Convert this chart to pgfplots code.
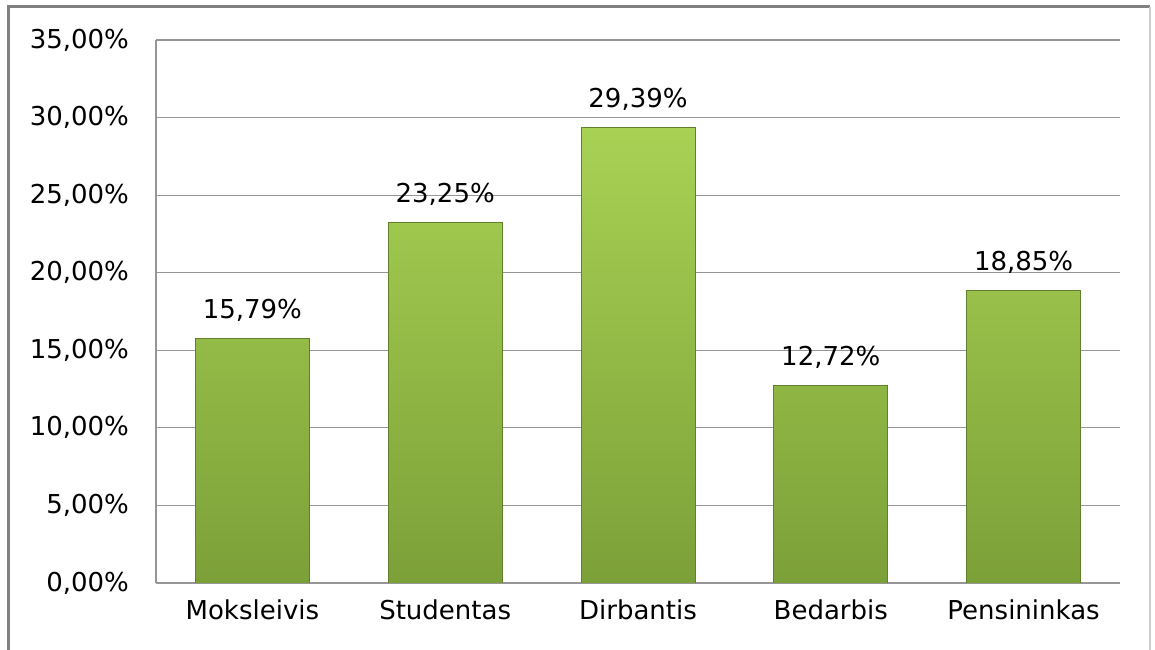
\documentclass[border=0pt]{standalone}
\usepackage{pgfplots}
\pgfplotsset{compat=1.18}
\usepackage{fontspec}
\setmainfont{DejaVu Sans}
\definecolor{gtop}{RGB}{168,210,84}
\definecolor{gbot}{RGB}{124,160,56}
\definecolor{gedge}{RGB}{98,128,44}
\definecolor{gridc}{RGB}{150,150,150}
\definecolor{frameL}{RGB}{128,128,128}
\definecolor{frameR}{RGB}{205,205,205}
\begin{document}
\fontsize{13}{15}\selectfont
\begin{tikzpicture}
\begin{axis}[name=ax, width=482pt, height=271.5pt, scale only axis,
 xmin=-0.5, xmax=4.5, ymin=0, ymax=35,
 xtick={0,1,2,3,4},
 xticklabels={Moksleivis,Studentas,Dirbantis,Bedarbis,Pensininkas},
 ytick={0,5,10,15,20,25,30,35},
 yticklabels={{0,00\%},{5,00\%},{10,00\%},{15,00\%},{20,00\%},{25,00\%},{30,00\%},{35,00\%}},
 ymajorgrids, grid style={gridc, line width=0.6pt},
 axis x line*=bottom, axis y line*=left,
 axis line style={gridc, line width=0.6pt, -},
 tick style={draw=none}, major tick length=0pt,
 xticklabel style={yshift=-4pt}, yticklabel style={xshift=-9pt},
 /pgf/number format/assume math mode=true,
 tick label style={font=\fontsize{13}{15}\selectfont, text=black},
]
\addplot[ybar, bar width=57pt, top color=gtop, bottom color=gbot, draw=gedge, line width=0.4pt,
 nodes near coords={\pgfmathprintnumber[fixed,fixed zerofill,precision=2,use comma]{\pgfplotspointmeta}\%},
 nodes near coords style={anchor=center, yshift=14pt, text=black, font=\fontsize{13}{15}\selectfont}]
 coordinates {(0,15.79) (1,23.25) (2,29.39) (3,12.72) (4,18.85)};
\end{axis}
\draw[frameL, line width=1.5pt] ([xshift=-73.5pt,yshift=-40pt]ax.south west) |- ([xshift=15pt,yshift=16.5pt]ax.north east);
\draw[frameR, line width=1pt] ([xshift=15pt,yshift=16.5pt]ax.north east) -- ([xshift=15pt,yshift=-40pt]ax.south east);
\pgfresetboundingbox
\useasboundingbox ([xshift=-78pt,yshift=-33.5pt]ax.south west) rectangle ([xshift=17.5pt,yshift=20pt]ax.north east);
\end{tikzpicture}
\end{document}
